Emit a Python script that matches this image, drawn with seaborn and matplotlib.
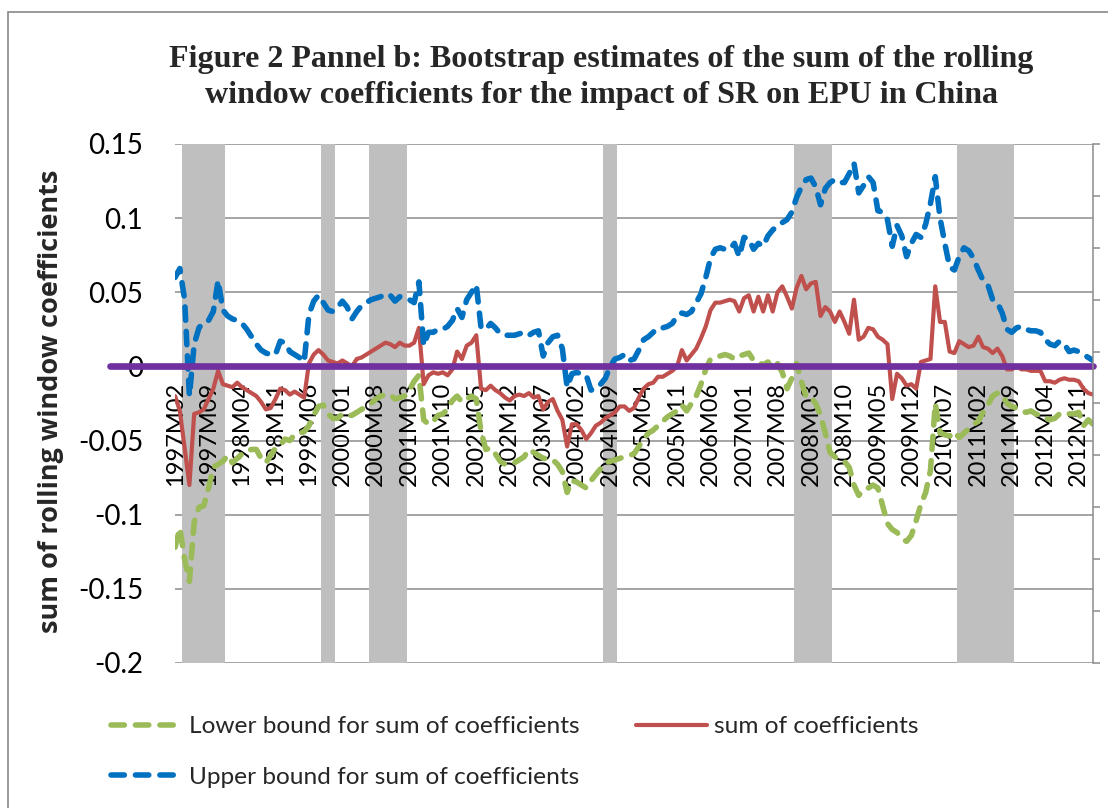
import matplotlib
matplotlib.use("Agg")
import matplotlib.pyplot as plt
import matplotlib.patches as mpatches
import numpy as np
import pandas as pd
import seaborn as sns


# Monthly categories 1997M02 .. 2013M02
months = pd.period_range("1997-02", "2013-02", freq="M")
month_labels = [f"{p.year}M{p.month:02d}" for p in months]

# Lower bound (green dashed), one value per month
lower_bound = [
    -0.122, -0.109, -0.130, -0.145, -0.105, -0.095, -0.094, -0.082, -0.068, -0.066, -0.064,           # 1997
    -0.060, -0.065, -0.062, -0.059, -0.057, -0.056, -0.056, -0.062, -0.065, -0.060, -0.055, -0.053,   # 1998
    -0.049, -0.050, -0.046, -0.045, -0.044, -0.040, -0.033, -0.027, -0.026, -0.032, -0.035, -0.035,   # 1999
    -0.032, -0.033, -0.033, -0.031, -0.029, -0.027, -0.025, -0.022, -0.020, -0.019, -0.019, -0.022,   # 2000
    -0.021, -0.020, -0.016, -0.010, -0.006, -0.036, -0.039, -0.037, -0.033, -0.032, -0.029, -0.023,   # 2001
    -0.020, -0.024, -0.022, -0.020, -0.022, -0.044, -0.056, -0.055, -0.059, -0.064, -0.066, -0.065,   # 2002
    -0.065, -0.063, -0.061, -0.056, -0.058, -0.060, -0.062, -0.062, -0.063, -0.066, -0.071, -0.085,   # 2003
    -0.077, -0.078, -0.080, -0.082, -0.077, -0.073, -0.069, -0.065, -0.064, -0.063, -0.062, -0.061,   # 2004
    -0.060, -0.059, -0.054, -0.049, -0.045, -0.043, -0.040, -0.037, -0.034, -0.032, -0.030, -0.026,   # 2005
    -0.030, -0.025, -0.020, -0.012, -0.002, 0.005, 0.006, 0.007, 0.008, 0.007, 0.005, 0.007,          # 2006
    0.008, 0.009, 0.004, 0.003, 0.001, 0.003, -0.002, 0.002, -0.004, -0.015, -0.008, 0.002,           # 2007
    -0.010, -0.021, -0.021, -0.025, -0.033, -0.045, -0.058, -0.061, -0.063, -0.064, -0.068, -0.080,   # 2008
    -0.087, -0.083, -0.082, -0.080, -0.082, -0.094, -0.106, -0.110, -0.112, -0.116, -0.118, -0.114,   # 2009
    -0.104, -0.093, -0.085, -0.070, -0.025, -0.045, -0.046, -0.047, -0.044, -0.048, -0.045, -0.042,   # 2010
    -0.039, -0.037, -0.031, -0.026, -0.020, -0.018, -0.019, -0.025, -0.027, -0.028, -0.030, -0.031,   # 2011
    -0.030, -0.032, -0.033, -0.035, -0.036, -0.035, -0.032, -0.031, -0.032, -0.032, -0.031, -0.040,   # 2012
    -0.036, -0.039,                                                                                     # 2013
]

# Sum of coefficients (red solid)
sum_coef = [
    -0.020, -0.030, -0.055, -0.080, -0.032, -0.031, -0.029, -0.022, -0.015, -0.003, -0.012,           # 1997
    -0.013, -0.014, -0.011, -0.014, -0.016, -0.018, -0.020, -0.024, -0.029, -0.028, -0.022, -0.015,   # 1998
    -0.016, -0.019, -0.017, -0.019, -0.021, 0.002, 0.008, 0.011, 0.008, 0.004, 0.003, 0.002,          # 1999
    0.004, 0.002, 0.000, 0.005, 0.006, 0.008, 0.010, 0.012, 0.014, 0.016, 0.015, 0.013,               # 2000
    0.016, 0.014, 0.014, 0.016, 0.026, -0.012, -0.006, -0.004, -0.005, -0.004, -0.006, -0.002,        # 2001
    0.010, 0.005, 0.014, 0.016, 0.021, -0.015, -0.016, -0.013, -0.016, -0.018, -0.021, -0.023,        # 2002
    -0.020, -0.019, -0.020, -0.018, -0.021, -0.020, -0.029, -0.024, -0.022, -0.030, -0.036, -0.054,   # 2003
    -0.039, -0.039, -0.043, -0.049, -0.045, -0.040, -0.038, -0.035, -0.033, -0.031, -0.027, -0.027,   # 2004
    -0.030, -0.028, -0.021, -0.015, -0.012, -0.011, -0.007, -0.007, -0.005, -0.003, 0.000, 0.011,     # 2005
    0.004, 0.008, 0.012, 0.019, 0.027, 0.038, 0.043, 0.043, 0.044, 0.045, 0.044, 0.037,               # 2006
    0.046, 0.048, 0.037, 0.047, 0.037, 0.048, 0.037, 0.050, 0.054, 0.047, 0.039, 0.053,               # 2007
    0.061, 0.052, 0.056, 0.057, 0.034, 0.040, 0.037, 0.030, 0.037, 0.030, 0.022, 0.045,               # 2008
    0.018, 0.020, 0.026, 0.025, 0.020, 0.018, 0.015, -0.022, -0.005, -0.008, -0.013, -0.012,          # 2009
    -0.015, 0.003, 0.004, 0.005, 0.054, 0.030, 0.030, 0.010, 0.009, 0.017, 0.015, 0.013,              # 2010
    0.014, 0.020, 0.013, 0.012, 0.009, 0.012, 0.007, -0.002, -0.002, 0.000, -0.002, -0.002,           # 2011
    -0.003, -0.003, -0.003, -0.010, -0.010, -0.011, -0.009, -0.008, -0.009, -0.009, -0.010, -0.015,   # 2012
    -0.018, -0.019,                                                                                     # 2013
]

# Upper bound (blue dashed)
upper_bound = [
    0.060, 0.066, 0.045, -0.020, 0.015, 0.026, 0.030, 0.031, 0.037, 0.058, 0.038,                     # 1997
    0.034, 0.032, 0.031, 0.029, 0.025, 0.020, 0.015, 0.011, 0.009, 0.008, 0.008, 0.017,               # 1998
    0.016, 0.010, 0.008, 0.006, 0.003, 0.035, 0.044, 0.048, 0.043, 0.038, 0.037, 0.040,               # 1999
    0.044, 0.040, 0.032, 0.037, 0.041, 0.043, 0.045, 0.046, 0.047, 0.049, 0.048, 0.044,               # 2000
    0.047, 0.047, 0.045, 0.043, 0.057, 0.014, 0.023, 0.023, 0.025, 0.025, 0.027, 0.031,               # 2001
    0.039, 0.033, 0.045, 0.050, 0.055, 0.026, 0.025, 0.029, 0.026, 0.022, 0.021, 0.021,               # 2002
    0.021, 0.022, 0.023, 0.021, 0.023, 0.024, 0.007, 0.016, 0.020, 0.021, 0.012, -0.014,              # 2003
    -0.005, -0.004, -0.005, -0.006, -0.016, -0.015, -0.012, -0.008, 0.000, 0.005, 0.006, 0.008,       # 2004
    0.004, 0.005, 0.011, 0.018, 0.020, 0.023, 0.026, 0.026, 0.027, 0.029, 0.034, 0.036,               # 2005
    0.035, 0.037, 0.043, 0.049, 0.060, 0.073, 0.079, 0.080, 0.079, 0.079, 0.083, 0.074,               # 2006
    0.087, 0.086, 0.079, 0.083, 0.081, 0.088, 0.092, 0.095, 0.097, 0.099, 0.104, 0.114,               # 2007
    0.121, 0.126, 0.127, 0.121, 0.109, 0.120, 0.124, 0.126, 0.124, 0.124, 0.130, 0.137,               # 2008
    0.117, 0.122, 0.128, 0.124, 0.105, 0.104, 0.099, 0.081, 0.095, 0.088, 0.074, 0.083,               # 2009
    0.089, 0.087, 0.096, 0.110, 0.128, 0.100, 0.083, 0.067, 0.065, 0.074, 0.080, 0.078,               # 2010
    0.073, 0.065, 0.058, 0.055, 0.045, 0.043, 0.036, 0.025, 0.023, 0.026, 0.027, 0.025,               # 2011
    0.024, 0.024, 0.023, 0.018, 0.015, 0.014, 0.017, 0.015, 0.010, 0.011, 0.010, 0.008,               # 2012
    0.006, 0.004,                                                                                       # 2013
]

# Grey shaded periods (secondary axis columns)
shaded_periods = [
    ("1997M04", "1997M12"),
    ("1999M09", "1999M11"),
    ("2000M07", "2001M02"),
    ("2004M08", "2004M10"),
    ("2007M12", "2008M07"),
    ("2010M10", "2011M09"),
]

y_ticks = [-0.2, -0.15, -0.1, -0.05, 0, 0.05, 0.1, 0.15]
y_tick_labels = ["-0.2", "-0.15", "-0.1", "-0.05", "0", "0.05", "0.1", "0.15"]

title = ("Figure 2 Pannel b: Bootstrap estimates of the sum of the rolling\n"
         "window coefficients for the impact of SR on EPU in China")

df = pd.DataFrame({
    "month": month_labels,
    "pos": np.arange(len(month_labels)),
    "lower": lower_bound,
    "sum": sum_coef,
    "upper": upper_bound,
})
df["shade"] = [1 if any(s <= m <= e for s, e in shaded_periods) else 0 for m in df["month"]]

sns.set_theme(style="white")
plt.rcParams["font.family"] = ["Lato", "DejaVu Sans"]

fig = plt.figure(figsize=(11.08, 8.08), dpi=100)
ax = fig.add_axes([0.158, 0.1795, 0.8285, 0.6423])

grid_color = "#8C8C8C"

# horizontal gridlines, kept under the shaded columns
for y in y_ticks:
    ax.axhline(y, color=grid_color, linewidth=1.1, zorder=0.5)

# shaded columns spanning full height
ax.bar(df["pos"], df["shade"], width=1.0, color="#BFBFBF", linewidth=0,
       transform=ax.get_xaxis_transform(), zorder=1)

dash = (0, (2.4, 2.0))
sns.lineplot(x=df["pos"], y=df["lower"], ax=ax, color="#9BBB59", linewidth=4.0,
             linestyle=dash, dash_capstyle="round", label="Lower bound for sum of coefficients",
             legend=False, zorder=3)
sns.lineplot(x=df["pos"], y=df["sum"], ax=ax, color="#C0504D", linewidth=3.0,
             label="sum of coefficients", legend=False, zorder=4)
sns.lineplot(x=df["pos"], y=df["upper"], ax=ax, color="#0070C0", linewidth=4.0,
             linestyle=dash, dash_capstyle="round", label="Upper bound for sum of coefficients",
             legend=False, zorder=5)

# purple zero line, extends left past the plot area
ax.axhline(0, xmin=-0.071, xmax=1.0, color="#7030A0", linewidth=4.8, clip_on=False, zorder=6)

# x axis labels sit at the zero line (set before the tick labels: it resets the ticks)
ax.spines["bottom"].set_position(("data", 0))
ax.spines["bottom"].set_visible(False)
for side in ["left", "right", "top"]:
    ax.spines[side].set_visible(False)

ax.set_xlim(0, len(month_labels) - 1)
ax.set_ylim(-0.2, 0.15)
ax.set_yticks(y_ticks)
ax.set_yticklabels(y_tick_labels, fontsize=20)
ax.set_xticks(df["pos"][::7])
ax.set_xticklabels(list(df["month"][::7]), rotation=90, fontsize=17)
ax.set_xlabel("")
ax.set_ylabel("sum of rolling window coefficients", fontsize=19.5, fontweight="bold",
              family="Open Sans")
ax.yaxis.set_label_coords(-0.121, 0.505)

# tick labels above the grey columns, below the lines
ax.set_axisbelow("line")
ax.grid(False)
ax.tick_params(axis="x", length=0, pad=11, colors="black")
ax.tick_params(axis="y", length=0, pad=23, colors="black")
ax.patch.set_visible(False)

# secondary axis: only the right spine with tick marks
ax2 = ax.twinx()
ax2.set_ylim(0, 1)
ax2.set_yticks(np.arange(0, 1.01, 0.1))
ax2.set_yticklabels([])
ax2.tick_params(axis="y", direction="out", length=5, width=1.1, color=grid_color)
for side in ["left", "top", "bottom"]:
    ax2.spines[side].set_visible(False)
ax2.spines["right"].set_color(grid_color)
ax2.spines["right"].set_linewidth(1.1)
ax2.grid(False)

fig.text(0.543, 0.904, title, ha="center", va="center", fontsize=23, fontweight="bold",
         family="Liberation Serif", linespacing=1.3)

handles, labels = ax.get_legend_handles_labels()
order = [0, 2, 1]
fig.legend([handles[i] for i in order], [labels[i] for i in order], ncol=2,
           loc="upper left", bbox_to_anchor=(0.1002, 0.1136), frameon=False, fontsize=17.6,
           handlelength=2.9, handletextpad=0.3, columnspacing=2.3, labelspacing=1.2,
           borderpad=0, borderaxespad=0)

# outer chart border
fig.patches.append(mpatches.Rectangle((8 / 1108, -0.1), 1.2, 1.1 - 12 / 808, fill=False,
                                      edgecolor="#888888", linewidth=1.2,
                                      transform=fig.transFigure, figure=fig))

fig.savefig("out.png", dpi=100)
